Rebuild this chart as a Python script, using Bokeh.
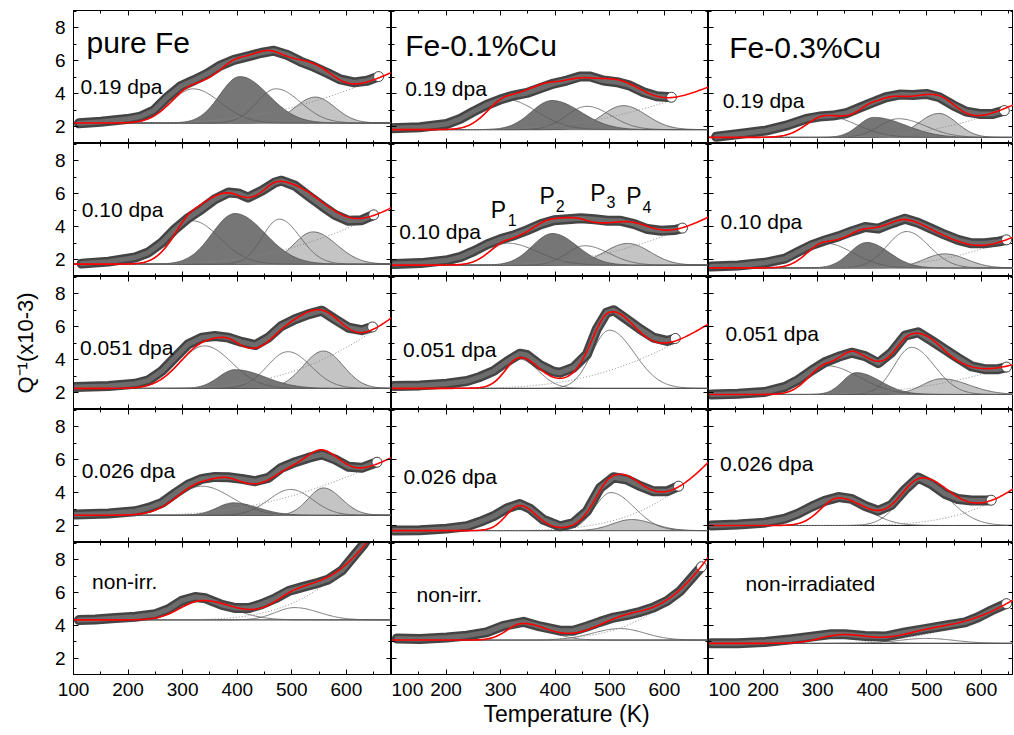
import numpy as np
from bokeh.plotting import figure
from bokeh.layouts import gridplot
from bokeh.models import LinearAxis, Range1d, Span, Label, Title, SingleIntervalTicker, CustomJSTickFormatter
from bokeh.embed import file_html
from bokeh.resources import INLINE

FONT = "Liberation Sans"

# ======================= data =======================
# Temperature (K) and Q^-1 (x10^-3) of the measured curves; baseline level,
# background (amplitude at 650 K, activation in K) and peaks (T, height, sigma_low, sigma_high)

# ---------------- pure Fe ----------------
pfe_d019_T = [110, 150, 198, 223, 247, 272, 296, 320, 345, 369, 394, 418, 443, 467, 492, 516, 540, 565, 589, 614, 638, 659]
pfe_d019_Q = [2.22, 2.32, 2.48, 2.63, 3.00, 3.81, 4.46, 4.82, 5.22, 5.72, 6.06, 6.26, 6.48, 6.62, 6.36, 5.96, 5.65, 5.27, 4.88, 4.70, 4.80, 5.05]
pfe_d019_base = 2.24
pfe_d019_bg = (2.6, 2200)
pfe_d019_peaks = {"P1": (319, 2.07, 40, 50), "P2": (405, 2.81, 37, 52), "P3": (471, 2.07, 35, 45), "P4": (543, 1.57, 37, 36)}

pfe_d010_T = [115, 164, 213, 237, 262, 286, 310, 335, 359, 384, 402, 420, 445, 469, 481, 506, 530, 555, 579, 604, 628, 650]
pfe_d010_Q = [1.78, 1.90, 2.15, 2.45, 3.06, 3.87, 4.53, 5.08, 5.68, 6.09, 6.03, 5.78, 6.19, 6.69, 6.80, 6.49, 5.89, 5.28, 4.73, 4.37, 4.41, 4.73]
pfe_d010_base = 1.75
pfe_d010_bg = (2.88, 2300)
pfe_d010_peaks = {"P1": (318, 2.62, 35, 50), "P2": (396, 3.06, 42, 55), "P3": (477, 2.72, 31, 38), "P4": (539, 1.95, 36, 43)}

pfe_d051_T = [103, 164, 213, 237, 262, 286, 310, 335, 359, 384, 408, 433, 457, 481, 506, 530, 555, 579, 604, 628, 648]
pfe_d051_Q = [2.36, 2.42, 2.56, 2.76, 3.33, 4.14, 4.95, 5.35, 5.45, 5.35, 5.09, 4.90, 5.35, 6.06, 6.46, 6.76, 6.98, 6.46, 5.95, 5.80, 6.00]
pfe_d051_base = 2.28
pfe_d051_bg = (3.5, 2700)
pfe_d051_peaks = {"P1": (340, 2.57, 45, 50), "P2": (396, 1.13, 30, 55), "P3": (493, 2.22, 38, 42), "P4": (558, 2.26, 37, 36)}

pfe_d026_T = [103, 164, 213, 237, 262, 286, 310, 335, 359, 384, 408, 433, 457, 481, 506, 530, 555, 579, 604, 628, 656]
pfe_d026_Q = [2.69, 2.75, 2.89, 3.09, 3.40, 3.97, 4.51, 4.85, 4.97, 4.95, 4.85, 4.71, 4.91, 5.52, 5.86, 6.12, 6.33, 6.03, 5.58, 5.52, 5.86]
pfe_d026_base = 2.65
pfe_d026_bg = (3.0, 2040)
pfe_d026_peaks = {"P1": (335, 1.76, 45, 55), "P2": (393, 0.75, 30, 45), "P3": (498, 1.56, 40, 40), "P4": (558, 1.65, 28, 33)}

pfe_d000_T = [110, 140, 177, 213, 250, 274, 298, 323, 342, 372, 397, 421, 445, 470, 494, 519, 543, 567, 592, 616, 632, 645]
pfe_d000_Q = [4.32, 4.35, 4.44, 4.52, 4.68, 4.98, 5.49, 5.73, 5.65, 5.24, 5.05, 5.05, 5.29, 5.65, 6.09, 6.33, 6.54, 6.80, 7.35, 8.32, 8.96, 9.60]
pfe_d000_base = 4.33
pfe_d000_bg = (5.27, 3600)
pfe_d000_peaks = {"P1": (335, 1.15, 40, 55), "P3": (505, 0.75, 35, 45)}

# ---------------- Fe-0.1%Cu ----------------
cu01_d019_T = [100, 152, 201, 226, 250, 274, 299, 323, 348, 372, 397, 421, 445, 464, 488, 513, 537, 562, 586, 613]
cu01_d019_Q = [1.92, 1.98, 2.18, 2.49, 2.93, 3.33, 3.66, 3.90, 4.06, 4.34, 4.63, 4.81, 5.05, 5.05, 4.81, 4.71, 4.50, 4.10, 3.86, 3.80]
cu01_d019_base = 1.84
cu01_d019_bg = (2.2, 2300)
cu01_d019_peaks = {"P1": (311, 1.82, 35, 55), "P2": (394, 1.76, 38, 53), "P3": (458, 1.41, 37, 44), "P4": (525, 1.45, 39, 42)}

cu01_d010_T = [105, 154, 203, 227, 252, 276, 300, 325, 349, 374, 398, 423, 447, 472, 496, 520, 545, 569, 594, 618, 633]
cu01_d010_Q = [1.75, 1.81, 1.99, 2.19, 2.55, 2.96, 3.26, 3.50, 3.81, 4.17, 4.41, 4.47, 4.53, 4.46, 4.37, 4.37, 4.17, 3.87, 3.77, 3.81, 3.93]
cu01_d010_base = 1.69
cu01_d010_bg = (2.44, 2500)
cu01_d010_peaks = {"P1": (312, 1.33, 32, 56), "P2": (395, 1.91, 37, 45), "P3": (454, 1.17, 33, 45), "P4": (533, 1.31, 43, 41)}

cu01_d051_T = [104, 152, 201, 238, 262, 287, 311, 335, 348, 372, 397, 409, 433, 458, 476, 494, 507, 531, 556, 580, 605, 620]
cu01_d051_Q = [2.42, 2.46, 2.56, 2.72, 2.97, 3.33, 3.89, 4.38, 4.30, 3.69, 3.29, 3.23, 3.53, 4.34, 5.86, 6.86, 7.01, 6.46, 5.86, 5.35, 5.15, 5.30]
cu01_d051_base = 2.28
cu01_d051_bg = (3.3, 2400)
cu01_d051_peaks = {"P1": (335, 1.76, 26, 34), "P3": (499, 3.52, 32, 46)}

cu01_d026_T = [104, 152, 201, 238, 262, 287, 311, 335, 353, 378, 409, 433, 458, 482, 507, 531, 556, 580, 605, 626]
cu01_d026_Q = [1.72, 1.74, 1.84, 1.98, 2.25, 2.59, 3.06, 3.33, 3.06, 2.39, 1.98, 2.18, 2.89, 4.30, 4.95, 4.81, 4.41, 4.10, 4.10, 4.41]
cu01_d026_base = 1.72
cu01_d026_bg = (3.19, 3800)
cu01_d026_peaks = {"P1": (335, 1.50, 25, 30), "P3": (502, 2.30, 30, 43), "P4": (540, 0.67, 35, 40)}

cu01_d000_T = [110, 152, 201, 238, 274, 305, 342, 372, 409, 433, 458, 482, 507, 531, 556, 580, 605, 629, 653, 668]
cu01_d000_Q = [3.20, 3.17, 3.26, 3.37, 3.57, 3.97, 4.21, 3.93, 3.67, 3.67, 3.93, 4.21, 4.47, 4.62, 4.82, 5.08, 5.49, 6.09, 7.00, 7.57]
cu01_d000_base = 3.10
cu01_d000_bg = (3.79, 4200)
cu01_d000_peaks = {"P1": (340, 1.00, 28, 45), "P3": (519, 0.70, 50, 45)}

# ---------------- Fe-0.3%Cu ----------------
cu03_d019_T = [114, 156, 205, 242, 279, 303, 328, 352, 376, 401, 425, 450, 474, 499, 523, 548, 572, 597, 621, 642]
cu03_d019_Q = [1.41, 1.58, 1.78, 2.08, 2.49, 2.63, 2.69, 2.83, 3.15, 3.49, 3.80, 3.96, 3.94, 4.00, 3.80, 3.32, 2.93, 2.79, 2.79, 2.99]
cu03_d019_base = 1.37
cu03_d019_bg = (1.85, 3200)
cu03_d019_peaks = {"P1": (315, 1.30, 35, 55), "P2": (403, 1.21, 28, 58), "P3": (448, 1.13, 35, 50), "P4": (522, 1.45, 37, 33)}

cu03_d010_T = [105, 154, 203, 240, 264, 289, 313, 338, 362, 387, 411, 435, 460, 484, 509, 533, 557, 582, 606, 631, 646]
cu03_d010_Q = [1.60, 1.66, 1.83, 2.08, 2.49, 2.90, 3.18, 3.43, 3.73, 4.00, 3.90, 4.21, 4.50, 4.25, 3.88, 3.53, 3.22, 3.01, 3.01, 3.11, 3.22]
cu03_d010_base = 1.52
cu03_d010_bg = (1.75, 3300)
cu03_d010_peaks = {"P1": (313, 1.50, 32, 52), "P2": (390, 1.54, 31, 41), "P3": (463, 2.20, 36, 41), "P4": (533, 0.85, 38, 40)}

cu03_d051_T = [105, 154, 203, 240, 264, 289, 313, 338, 362, 387, 411, 435, 460, 484, 509, 533, 557, 582, 606, 631, 646]
cu03_d051_Q = [1.91, 1.95, 2.06, 2.37, 2.78, 3.36, 3.86, 4.19, 4.44, 4.23, 3.81, 4.44, 5.47, 5.67, 5.16, 4.64, 4.12, 3.61, 3.44, 3.44, 3.57]
cu03_d051_base = 1.91
cu03_d051_bg = (1.70, 2580)
cu03_d051_peaks = {"P1": (316, 1.74, 32, 60), "P2": (371, 1.32, 25, 44), "P3": (472, 2.85, 32, 42), "P4": (527, 0.95, 35, 50)}

cu03_d026_T = [105, 154, 203, 240, 264, 289, 313, 338, 362, 387, 411, 435, 460, 484, 509, 533, 557, 582, 606, 618]
cu03_d026_Q = [2.03, 2.09, 2.20, 2.44, 2.75, 3.17, 3.52, 3.75, 3.64, 3.21, 2.92, 3.27, 4.20, 4.93, 4.52, 3.95, 3.63, 3.54, 3.54, 3.56]
cu03_d026_base = 2.03
cu03_d026_bg = (2.03, 4500)
cu03_d026_peaks = {"P1": (338, 1.66, 32, 50), "P3": (490, 2.65, 38, 50)}

cu03_d000_T = [105, 154, 203, 252, 289, 325, 350, 387, 423, 460, 496, 533, 570, 594, 618, 646]
cu03_d000_Q = [2.90, 2.90, 2.98, 3.15, 3.31, 3.46, 3.46, 3.35, 3.31, 3.56, 3.77, 3.97, 4.18, 4.49, 4.90, 5.32]
cu03_d000_base = 2.90
cu03_d000_bg = (2.49, 3200)
cu03_d000_peaks = {"P1": (345, 0.50, 40, 45), "P3": (500, 0.30, 50, 50)}

SAMPLES = ["pure Fe", "Fe-0.1%Cu", "Fe-0.3%Cu"]
DOSE_LABELS = [
    ["0.19 dpa", "0.19 dpa", "0.19 dpa"],
    ["0.10 dpa", "0.10 dpa", "0.10 dpa"],
    ["0.051 dpa", "0.051 dpa", "0.051 dpa"],
    ["0.026 dpa", "0.026 dpa", "0.026 dpa"],
    ["non-irr.", "non-irr.", "non-irradiated"],
]
PEAK_NAMES = ["P1", "P2", "P3", "P4"]
X_TITLE = "Temperature (K)"
Y_TITLE = "Q\u207b\u00b9(x10-3)"

def panel(T, Q, base, bg, peaks):
    return dict(T=T, Q=Q, base=base, bg=bg, peaks=peaks)

PANELS = [
    [panel(pfe_d019_T, pfe_d019_Q, pfe_d019_base, pfe_d019_bg, pfe_d019_peaks),
     panel(cu01_d019_T, cu01_d019_Q, cu01_d019_base, cu01_d019_bg, cu01_d019_peaks),
     panel(cu03_d019_T, cu03_d019_Q, cu03_d019_base, cu03_d019_bg, cu03_d019_peaks)],
    [panel(pfe_d010_T, pfe_d010_Q, pfe_d010_base, pfe_d010_bg, pfe_d010_peaks),
     panel(cu01_d010_T, cu01_d010_Q, cu01_d010_base, cu01_d010_bg, cu01_d010_peaks),
     panel(cu03_d010_T, cu03_d010_Q, cu03_d010_base, cu03_d010_bg, cu03_d010_peaks)],
    [panel(pfe_d051_T, pfe_d051_Q, pfe_d051_base, pfe_d051_bg, pfe_d051_peaks),
     panel(cu01_d051_T, cu01_d051_Q, cu01_d051_base, cu01_d051_bg, cu01_d051_peaks),
     panel(cu03_d051_T, cu03_d051_Q, cu03_d051_base, cu03_d051_bg, cu03_d051_peaks)],
    [panel(pfe_d026_T, pfe_d026_Q, pfe_d026_base, pfe_d026_bg, pfe_d026_peaks),
     panel(cu01_d026_T, cu01_d026_Q, cu01_d026_base, cu01_d026_bg, cu01_d026_peaks),
     panel(cu03_d026_T, cu03_d026_Q, cu03_d026_base, cu03_d026_bg, cu03_d026_peaks)],
    [panel(pfe_d000_T, pfe_d000_Q, pfe_d000_base, pfe_d000_bg, pfe_d000_peaks),
     panel(cu01_d000_T, cu01_d000_Q, cu01_d000_base, cu01_d000_bg, cu01_d000_peaks),
     panel(cu03_d000_T, cu03_d000_Q, cu03_d000_base, cu03_d000_bg, cu03_d000_peaks)],
]

# ======================= layout / style =======================
COL_W = [318, 317, 305]
ROW_H = [133, 133, 133, 133, 132]
LEFT_B, TOP_B, BOT_B = 73, 10, 60
PX_PER_K = 0.5458
Y0, Y1 = 1.0, 9.05

DOSE_POS = {
    (0, 0): (113, 4.44), (1, 0): (115, 5.08), (2, 0): (112, 4.78), (3, 0): (115, 5.38), (4, 0): (134, 6.66),
    (0, 1): (125, 4.34), (1, 1): (114, 3.72), (2, 1): (121, 4.64), (3, 1): (122, 5.01), (4, 1): (146, 5.89),
    (0, 2): (126, 3.60), (1, 2): (122, 4.32), (2, 2): (131, 5.57), (3, 2): (121, 5.76), (4, 2): (168, 6.56),
}
TITLE_POS = [(124, 7.09), (125, 6.93), (138, 6.83)]
P_POS = [((282, 5.02), (313, 4.41)), ((371, 5.89), (401, 5.28)),
         ((464, 6.03), (494, 5.48)), ((530, 5.89), (560, 5.22))]
XTITLE_OFFSET = 92   # px from the left of the middle column

DARK = "#767676"
LIGHT = "#c4c4c4"
EMPTY = CustomJSTickFormatter(code="return ''")


def style_axis(ax, show):
    ax.axis_line_color = "black"
    ax.axis_line_width = 1
    ax.major_tick_line_color = "black"
    ax.minor_tick_line_color = "black"
    ax.major_tick_in = 5
    ax.major_tick_out = 0
    ax.minor_tick_in = 3
    ax.minor_tick_out = 0
    if show:
        ax.major_label_text_font = FONT
        ax.major_label_text_font_size = "19px"
        ax.major_label_text_color = "black"
        ax.major_label_standoff = 8
    else:
        ax.formatter = EMPTY
        ax.major_label_text_font_size = "0px"
        ax.major_label_standoff = 0


def peak_curve(Tg, c, h, sl, sr):
    s = np.where(Tg < c, sl, sr)
    return h * np.exp(-0.5 * ((Tg - c) / s) ** 2)


def draw(p, d, x_end):
    Tg = np.arange(100.0, x_end + 2.0, 2.0)
    base = d["base"]
    A, Qa = d["bg"]
    bgc = A * np.exp(-Qa * (1.0 / Tg - 1.0 / 650.0))
    comps = {n: peak_curve(Tg, *d["peaks"][n]) for n in PEAK_NAMES if n in d["peaks"]}
    fit = base + bgc + sum(comps.values())

    p.add_layout(Span(location=base, dimension="width", line_color="#222222", line_width=1, level="underlay"))
    for n, col in (("P4", LIGHT), ("P2", DARK)):
        if n in comps:
            p.varea(x=Tg, y1=base, y2=base + comps[n], fill_color=col, fill_alpha=1)
            p.line(Tg, base + comps[n], line_color="#505050", line_width=0.8)
    for n in ("P1", "P3"):
        if n in comps:
            p.line(Tg, base + comps[n], line_color="#5a5a5a", line_width=0.8)
    m = (Tg >= 150) & (Tg <= d["T"][-1])
    p.line(Tg[m], (base + bgc)[m], line_color="#8a8a8a", line_width=1, line_dash="1 2")
    p.line(d["T"], d["Q"], line_color="#444444", line_width=10, line_join="round", line_cap="round")
    p.line(d["T"], d["Q"], line_color="#6c6c6c", line_width=5, line_join="round", line_cap="round")
    p.scatter([d["T"][-1]], [d["Q"][-1]], size=10, marker="circle", fill_color="white",
              line_color="#4a4a4a", line_width=1)
    p.line(Tg, fit, line_color="#ff0000", line_width=1.6)


rows = []
for r in range(5):
    row = []
    for c in range(3):
        fw, fh = COL_W[c], ROW_H[r]
        x_end = 100 + fw / PX_PER_K
        lb = LEFT_B if c == 0 else 0
        tb = TOP_B if r == 0 else 0
        bb = BOT_B if r == 4 else 0
        p = figure(width=fw + lb, height=fh + tb + bb,
                   x_range=Range1d(100, x_end), y_range=Range1d(Y0, Y1),
                   output_backend="svg", toolbar_location=None,
                   min_border_left=lb, min_border_right=0, min_border_top=tb, min_border_bottom=bb,
                   outline_line_color="black", outline_line_width=1, outline_line_alpha=1,
                   background_fill_color="white", border_fill_color="white")
        p.xgrid.visible = False
        p.ygrid.visible = False
        p.add_layout(LinearAxis(), "above")
        p.add_layout(LinearAxis(), "right")
        for ax in p.xaxis:
            ax.ticker = SingleIntervalTicker(interval=100, num_minor_ticks=2)
        for ax in p.yaxis:
            ax.ticker = SingleIntervalTicker(interval=2, num_minor_ticks=2)
        for ax in p.above + p.right:
            style_axis(ax, False)
        style_axis(p.below[0], r == 4)
        style_axis(p.left[0], c == 0)
        if r == 4 and c == 1:
            p.add_layout(Title(text=X_TITLE, align="left", offset=XTITLE_OFFSET, text_font=FONT,
                               text_font_size="23px", text_font_style="normal", text_color="black",
                               standoff=1), "below")
        if r == 2 and c == 0:
            ax = p.left[0]
            ax.axis_label = Y_TITLE
            ax.axis_label_text_font = FONT
            ax.axis_label_text_font_size = "22px"
            ax.axis_label_text_font_style = "normal"
            ax.axis_label_text_color = "black"
            ax.axis_label_standoff = 14

        draw(p, PANELS[r][c], x_end)

        tx, ty = DOSE_POS[(r, c)]
        p.add_layout(Label(x=tx, y=ty, text=DOSE_LABELS[r][c], text_font=FONT, text_font_size="21px",
                           text_baseline="alphabetic", text_align="left", text_color="black"))
        if r == 0:
            tx, ty = TITLE_POS[c]
            p.add_layout(Label(x=tx, y=ty, text=SAMPLES[c], text_font=FONT, text_font_size="30px",
                               text_baseline="alphabetic", text_align="left", text_color="black"))
        if r == 1 and c == 1:
            for i, ((px, py), (sx, sy)) in enumerate(P_POS):
                p.add_layout(Label(x=px, y=py, text="P", text_font=FONT, text_font_size="23px",
                                   text_baseline="alphabetic", text_align="left", text_color="black"))
                p.add_layout(Label(x=sx, y=sy, text=str(i + 1), text_font=FONT, text_font_size="16px",
                                   text_baseline="alphabetic", text_align="left", text_color="black"))
        row.append(p)
    rows.append(row)

grid = gridplot(rows, toolbar_location=None)
open("out.html", "w").write(file_html(grid, INLINE))
